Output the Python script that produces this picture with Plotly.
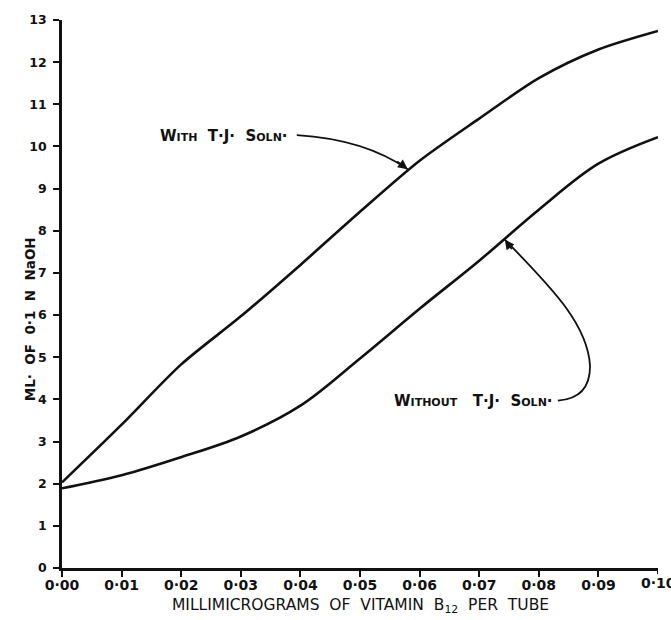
import plotly.graph_objects as go

# Data
dose = [0.00, 0.01, 0.02, 0.03, 0.04, 0.05, 0.06, 0.07, 0.08, 0.09, 0.10]
with_tj = [2.03, 3.40, 4.83, 5.97, 7.19, 8.45, 9.66, 10.66, 11.62, 12.30, 12.74]
without_tj = [1.89, 2.20, 2.63, 3.12, 3.85, 4.97, 6.15, 7.29, 8.50, 9.59, 10.22]

x_ticks = [0.00, 0.01, 0.02, 0.03, 0.04, 0.05, 0.06, 0.07, 0.08, 0.09, 0.10]
x_tick_labels = ["0·00", "0·01", "0·02", "0·03", "0·04", "0·05", "0·06", "0·07", "0·08", "0·09", "0·10"]
y_ticks = list(range(0, 14))
y_tick_labels = [str(v) for v in y_ticks]

FONT = "DejaVu Sans"
BLACK = "#111111"

fig = go.Figure()
fig.add_trace(go.Scatter(x=dose, y=with_tj, mode="lines", line=dict(color=BLACK, width=2.6, shape="spline", smoothing=0.8),
                         name="With T·J· Soln·", showlegend=False))
fig.add_trace(go.Scatter(x=dose, y=without_tj, mode="lines", line=dict(color=BLACK, width=2.6, shape="spline", smoothing=1.0),
                         name="Without T·J· Soln·", showlegend=False))

def sc(big, small):
    return big + "<span style='font-size:11px'>" + small + "</span>"

label_with = sc("W", "ITH") + "  T·J·  " + sc("S", "OLN") + "·"
label_without = sc("W", "ITHOUT") + "   T·J·  " + sc("S", "OLN") + "·"

fig.add_annotation(x=0.0271, y=10.26, xref="x", yref="y", text="<b>" + label_with + "</b>", showarrow=False,
                   font=dict(family=FONT, size=15, color=BLACK))
fig.add_annotation(x=0.0691, y=3.97, xref="x", yref="y", text="<b>" + label_without + "</b>", showarrow=False,
                   font=dict(family=FONT, size=15, color=BLACK))

# curved leader lines
fig.add_shape(type="path", xref="x", yref="y",
              path="M 0.0394 10.27 Q 0.0508 10.17 0.0580 9.46",
              line=dict(color=BLACK, width=1.8))
fig.add_shape(type="path", xref="x", yref="y",
              path="M 0.0832 3.97 Q 0.0886 4.02 0.0886 4.79 C 0.0882 5.85 0.0810 6.80 0.0743 7.79",
              line=dict(color=BLACK, width=1.8))
# arrowheads
fig.add_annotation(x=0.0580, y=9.46, xref="x", yref="y", text="", showarrow=True,
                   ax=-12, ay=-9, arrowhead=2, arrowsize=1.2, arrowwidth=1.6, arrowcolor=BLACK)
fig.add_annotation(x=0.0743, y=7.79, xref="x", yref="y", text="", showarrow=True,
                   ax=8, ay=11, arrowhead=2, arrowsize=1.2, arrowwidth=1.6, arrowcolor=BLACK)

# last x tick label (partly cut by the page edge, as in the reference)
fig.add_annotation(x=x_ticks[-1], y=0, xref="x", yref="y", yshift=-15, yanchor="middle",
                   text="<b>" + x_tick_labels[-1] + "</b>", showarrow=False,
                   font=dict(family=FONT, size=14, color=BLACK))

# axis titles
fig.add_annotation(x=0, y=0.454, xref="paper", yref="paper", xshift=-42, textangle=-90,
                   text="<b>ML·  OF  0·1  N  NaOH</b>", showarrow=False,
                   font=dict(family=FONT, size=13.5, color=BLACK))
fig.add_annotation(x=0.5, y=0, xref="paper", yref="paper", yshift=-38, yanchor="middle",
                   text="MILLIMICROGRAMS  OF  VITAMIN  B<sub>12</sub>  PER  TUBE", showarrow=False,
                   font=dict(family=FONT, size=15.5, color=BLACK))

fig.update_layout(
    width=671, height=620,
    margin=dict(l=62, r=13, t=17, b=52),
    paper_bgcolor="white", plot_bgcolor="white",
    showlegend=False,
)
fig.update_xaxes(range=[0, 0.1], tickvals=x_ticks[:-1], ticktext=["<b>" + t + "</b>" for t in x_tick_labels[:-1]],
                 showgrid=False, zeroline=False, showline=True, linecolor=BLACK, linewidth=2.5,
                 ticks="outside", ticklen=6, tickwidth=2, tickcolor=BLACK,
                 tickfont=dict(family=FONT, size=14, color=BLACK), ticklabelstandoff=-4)
fig.update_yaxes(range=[0, 13], tickvals=y_ticks, ticktext=["<b>" + t + "</b>" for t in y_tick_labels],
                 showgrid=False, zeroline=False, showline=True, linecolor=BLACK, linewidth=2.5,
                 ticks="outside", ticklen=6, tickwidth=2, tickcolor=BLACK,
                 tickfont=dict(family=FONT, size=12.5, color=BLACK), ticklabelstandoff=4)
# tick mark at x = 0.10
fig.add_shape(type="line", xref="x", yref="paper", x0=x_ticks[-1], x1=x_ticks[-1], y0=0, y1=-0.011,
              line=dict(color=BLACK, width=2))

fig.write_html("out.html")
